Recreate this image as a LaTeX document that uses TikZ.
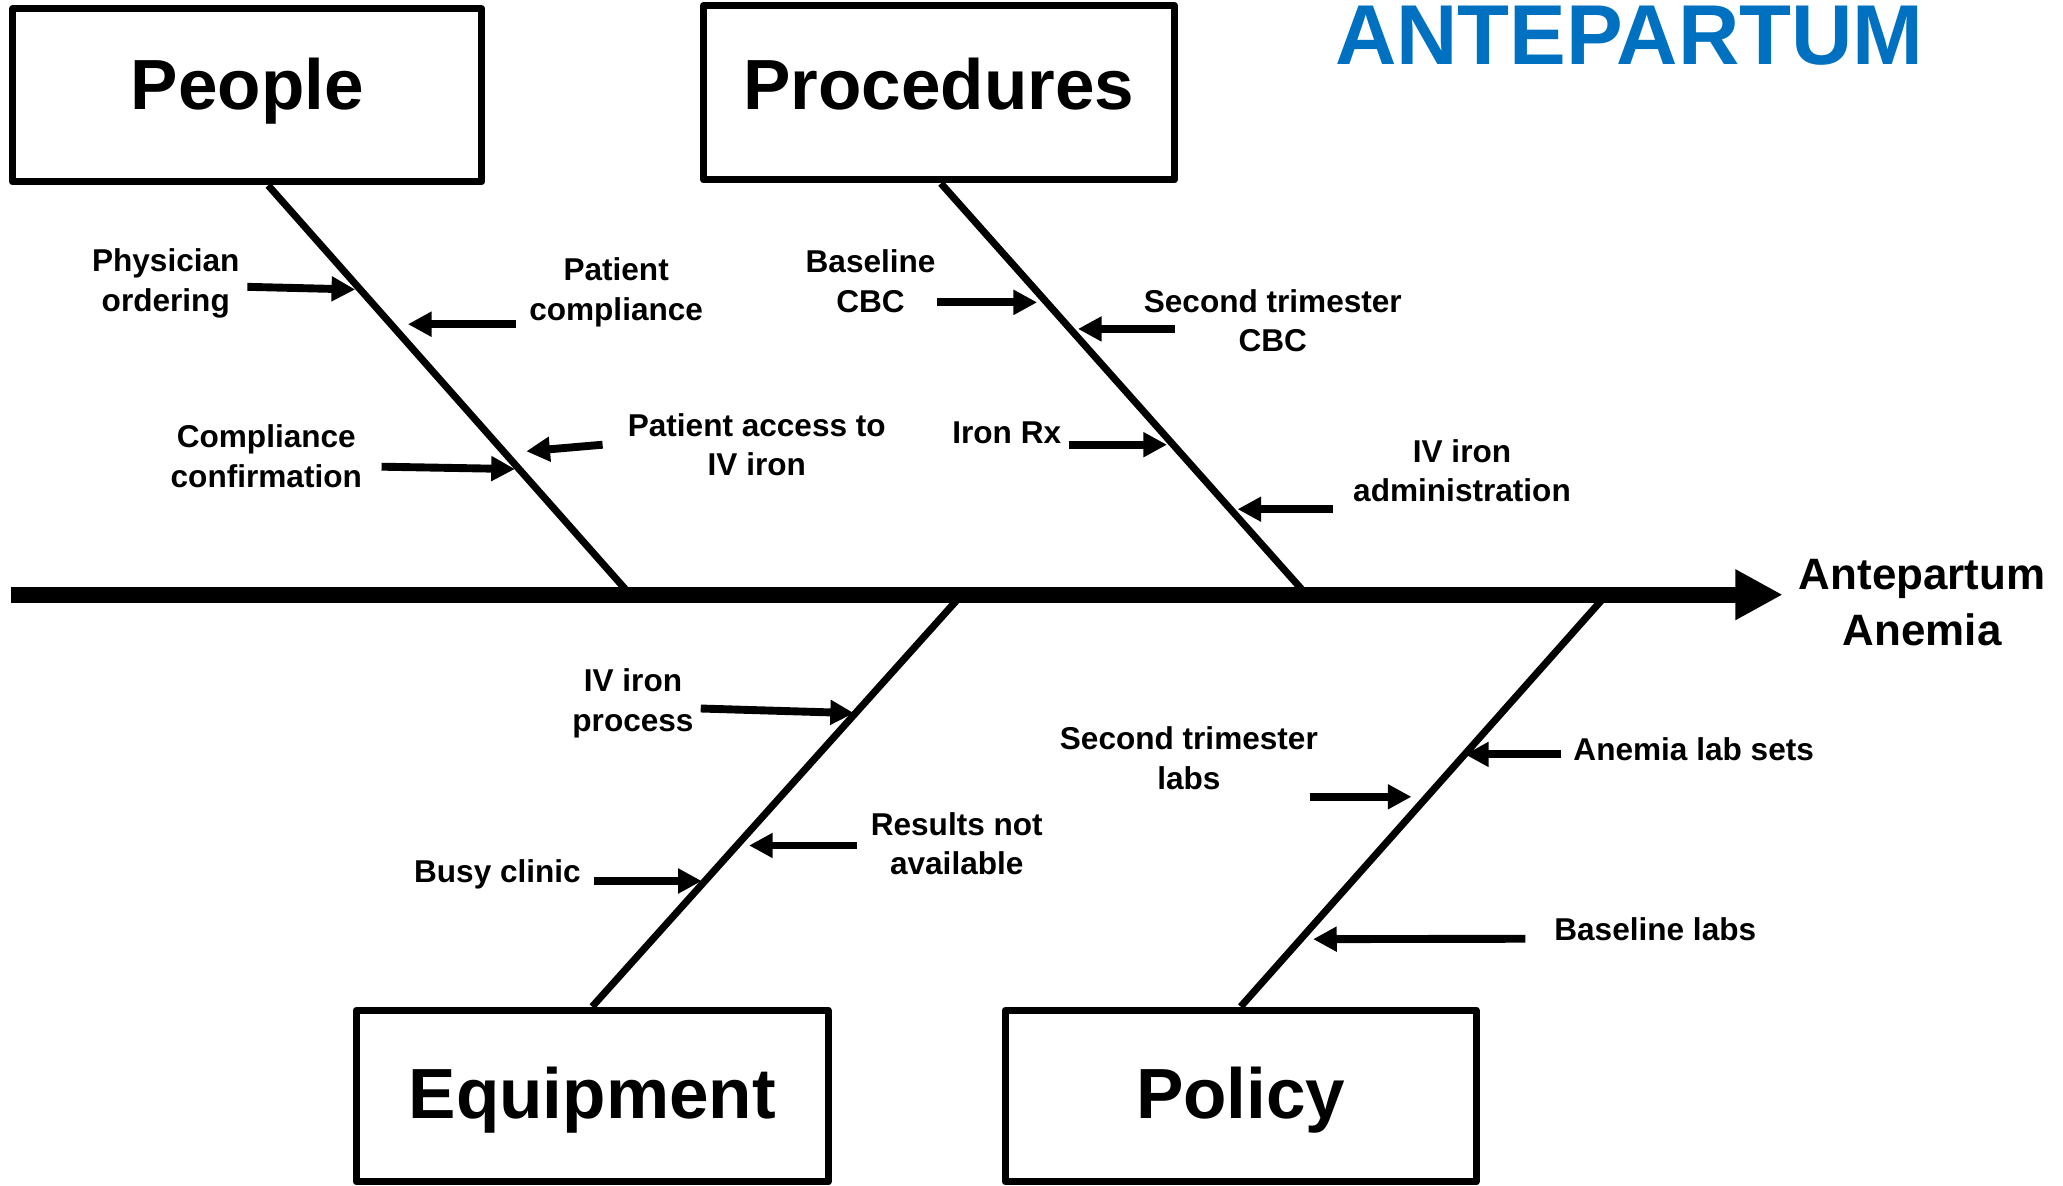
\documentclass[tikz,border=0pt]{standalone}
\usepackage{fontspec}
\setmainfont{Liberation Sans}
\usetikzlibrary{arrows.meta,calc}
\definecolor{titleblue}{RGB}{0,112,192}
\begin{document}
\begin{tikzpicture}[x=0.5pt,y=-0.5pt,
  catbox/.style={draw=black, line width=2.7pt, line join=round, fill=white,
    inner sep=0pt, anchor=base, font=\fontsize{27}{32}\selectfont\bfseries},
  bone/.style={line width=2.7pt},
  cause/.style={line width=3pt, -{Triangle[length=9pt,width=9pt]}},
  spine/.style={line width=6.1pt, -{Triangle[length=18pt,width=18pt]}},
  % multi-line labels sit on the baseline of their last line
  lbl/.style={align=center, anchor=base, inner sep=0pt,
    font=\fontsize{12}{15}\selectfont\bfseries},
]
\useasboundingbox (0,0) rectangle (1568,901);

% category boxes
\node[catbox, minimum width=178.2pt, text height=38.45pt, text depth=27.35pt]
  (people) at (187.9,83.5) {People};
\node[catbox, minimum width=179pt, text height=39.5pt, text depth=26.6pt]
  (procedures) at (713.7,83.5) {Procedures};
\node[catbox, minimum width=179.3pt, text height=41.05pt, text depth=24.2pt]
  (equipment) at (450.1,849.9) {Equipment};
\node[catbox, minimum width=178.9pt, text height=41.05pt, text depth=24.2pt]
  (policy) at (943,849.9) {Policy};

% title and effect
\node[anchor=base, inner sep=0pt, text=titleblue,
  font=\fontsize{32.3}{36}\selectfont\bfseries] (title) at (1238.5,48.7) {ANTEPARTUM};
\node[align=center, anchor=base, inner sep=0pt,
  font=\fontsize{16.7}{21.5}\selectfont\bfseries] (effect) at (1461,490.7) {Antepartum\\Anemia};

% bones meeting the spine
\coordinate (jPeople) at (479,452);
\coordinate (jProcedures) at (993,452);
\coordinate (jEquipment) at (731,452);
\coordinate (jPolicy) at (1221,452);
\draw[bone] ($(people.south west)!0.544!(people.south east)$) -- (jPeople);
\draw[bone] ($(procedures.south west)!0.504!(procedures.south east)$) -- (jProcedures);
\draw[bone] (equipment.north) -- (jEquipment);
\draw[bone] (policy.north) -- (jPolicy);

% spine
\coordinate (tail) at (8.7,452);
\coordinate (head) at (1355,452);
\draw[spine] (tail) -- (head);

% cause labels
\node[lbl] (physician) at (126,236.7) {Physician\\ordering};
\node[lbl] (compliance) at (468.3,243.3) {Patient\\compliance};
\node[lbl] (confirm) at (202.4,370.4) {Compliance\\confirmation};
\node[lbl] (access) at (575.2,361.4) {Patient access to\\IV iron};
\node[lbl] (basecbc) at (661.7,237.3) {Baseline\\CBC};
\node[lbl] (secondcbc) at (967.4,267.4) {Second trimester\\CBC};
\node[lbl] (ironrx) at (765.2,337) {Iron Rx};
\node[lbl] (ivadmin) at (1111.2,381.5) {IV iron\\administration};
\node[lbl] (ivprocess) at (481.1,555.9) {IV iron\\process};
\node[lbl] (results) at (727.2,665) {Results not\\available};
\node[lbl] (busy) at (378.1,671) {Busy clinic};
\node[lbl] (secondlabs) at (903.6,599.9) {Second trimester\\labs};
\node[lbl] (labsets) at (1287.3,577.8) {Anemia lab sets};
\node[lbl] (baselabs) at (1258.1,714.5) {Baseline labs};

% cause arrows
\coordinate (a1s) at (188,218);     \coordinate (a1e) at (270,220);
\coordinate (a2s) at (392,246.4);   \coordinate (a2e) at (310,246.4);
\coordinate (a3s) at (290,354.7);   \coordinate (a3e) at (391.4,356.5);
\coordinate (a4s) at (458,338);     \coordinate (a4e) at (400,343);
\coordinate (a5s) at (712.5,229.8); \coordinate (a5e) at (788.3,229.8);
\coordinate (a6s) at (892.7,250);   \coordinate (a6e) at (819.3,250);
\coordinate (a7s) at (812.6,338);   \coordinate (a7e) at (887,338);
\coordinate (a8s) at (1013.3,387);  \coordinate (a8e) at (940.6,387);
\coordinate (a9s) at (532.6,538.5); \coordinate (a9e) at (649.1,542);
\coordinate (a10s) at (651.2,642.6); \coordinate (a10e) at (569.3,642.6);
\coordinate (a11s) at (451.8,669.6); \coordinate (a11e) at (533.4,669.6);
\coordinate (a12s) at (995.5,605.6); \coordinate (a12e) at (1072.8,605.6);
\coordinate (a13s) at (1186.7,573.4); \coordinate (a13e) at (1113.5,573.4);
\coordinate (a14s) at (1159.4,713.5); \coordinate (a14e) at (998,713.8);
\foreach \i in {1,...,14} {\draw[cause] (a\i s) -- (a\i e);}
\end{tikzpicture}
\end{document}
